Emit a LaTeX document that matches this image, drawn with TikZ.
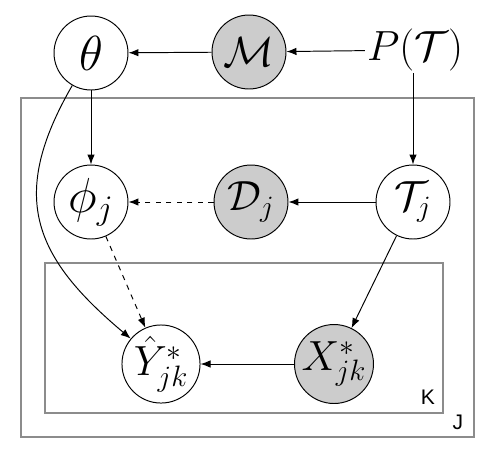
\documentclass[tikz,border=0pt]{standalone}
\usepackage{fix-cm}
\usepackage{fontspec}
\newfontfamily\platefont{Liberation Sans}
\usetikzlibrary{arrows.meta}
\begin{document}
\begin{tikzpicture}[x=0.02cm, y=-0.02cm, line width=0.55pt, >={Latex[length=2mm,width=1.5mm]},
    latent/.style ={circle, draw, inner sep=0pt, minimum size=1.48cm, font=\fontsize{24}{28}\selectfont},
    observed/.style ={latent, fill=black!20},
    big/.style ={font=\fontsize{28}{32}\selectfont},
    plate/.style ={draw=black!45, line width=0.8pt},
    platelabel/.style ={font=\fontsize{12}{14}\selectfont\platefont, inner sep=0pt}]
   \useasboundingbox (0,0) rectangle (500,454);
   % plates
   \draw[plate] (21,98) rectangle (474,437);
   \draw[plate] (45,263) rectangle (443,413);
   \node[platelabel] (K) at (428,397) {K};
   \node[platelabel] (J) at (458,422) {J};
   % nodes
   \node[latent, big] (theta) at (91,53) {$\theta$};
   \node[observed] (M) at (249,52) {$\mathcal{M}$};
   \node[font=\fontsize{24}{28}\selectfont, inner sep=1pt] (P) at (415,50) {$P(\mathcal{T})$};
   \node[latent, big] (phi) at (91,202) {$\phi_j$};
   \node[observed] (D) at (251,202) {$\mathcal{D}_j$};
   \node[latent] (T) at (413,202) {$\mathcal{T}_j$};
   \node[latent] (Y) at (161,364) {$\hat{Y}^*_{jk}$};
   \node[observed] (X) at (334,364) {$X^*_{jk}$};
   % edges
   \draw[->] (P) to (M);
   \draw[->] (M) to (theta);
   \draw[->] (theta) to (phi);
   \draw[->] (P.south -| T) to (T);
   \draw[->] (T) to (D);
   \draw[->, dashed] (D) to (phi);
   \draw[->, dashed] (phi) to (Y);
   \draw[->] (T) to (X);
   \draw[->] (X) to (Y);
   \draw[->] (theta) to[out=-120, in=140, looseness=1.26] (Y);
\end{tikzpicture}
\end{document}
